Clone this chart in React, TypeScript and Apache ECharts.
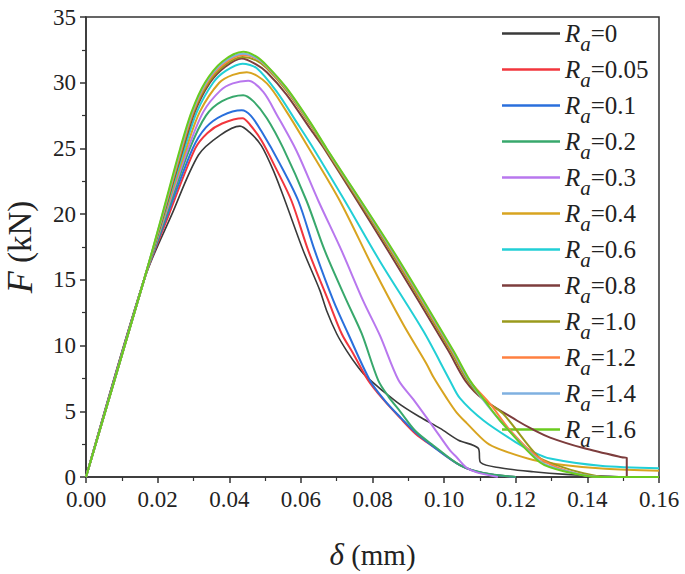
import React, { useEffect, useRef } from "react";
import * as echarts from "echarts";

// Legend values of R_a
const raValues = ["0", "0.05", "0.1", "0.2", "0.3", "0.4", "0.6", "0.8", "1.0", "1.2", "1.4", "1.6"];
const raColors = ["#3a3a3a", "#f2363d", "#2a6fdc", "#38a86c", "#b877ee", "#d8a420", "#22cfd6", "#7d3d3d", "#9a9a1c", "#ff8040", "#7fb0e0", "#6acb1e"];

// [delta (mm), F (kN)]
const curveRa0 = [[0,0],[0.0162,15],[0.024,20],[0.0314,24.5],[0.0374,26.0],[0.043,26.7],[0.0458,26.2],[0.049,25.2],[0.0525,23.2],[0.0556,21.0],[0.0607,17.2],[0.0653,14.2],[0.0672,12.65],[0.07,10.9],[0.0728,9.6],[0.076,8.35],[0.0784,7.6],[0.0868,5.7],[0.093,4.6],[0.0989,3.7],[0.104,2.8],[0.1095,2.2],[0.1102,1.1],[0.1156,0.7],[0.1249,0.4],[0.134,0.2],[0.1436,0.08],[0.15,0]];
const curveRa005 = [[0,0],[0.0162,15],[0.0232,20],[0.0305,25],[0.034,26.2],[0.038,26.9],[0.0437,27.3],[0.0458,26.8],[0.049,25.6],[0.053,23.5],[0.0574,21.0],[0.0621,17.2],[0.0677,13.4],[0.0714,10.9],[0.0746,9.4],[0.0788,7.35],[0.083,5.9],[0.0877,4.5],[0.092,3.3],[0.097,2.3],[0.1044,0.9],[0.111,0.28],[0.12,0]];
const curveRa01 = [[0,0],[0.0162,15],[0.0228,20],[0.0298,25],[0.0335,26.6],[0.038,27.5],[0.0435,27.9],[0.046,27.5],[0.049,26.3],[0.054,23.9],[0.0593,21.0],[0.0639,17.2],[0.0691,13.4],[0.0732,10.9],[0.0793,7.35],[0.0835,5.8],[0.0877,4.57],[0.092,3.4],[0.097,2.3],[0.1044,0.9],[0.111,0.28],[0.12,0]];
const curveRa02 = [[0,0],[0.0162,15],[0.0225,20],[0.029,25],[0.0335,27.5],[0.038,28.6],[0.0439,29.05],[0.0467,28.6],[0.0505,27.3],[0.0551,25.0],[0.0616,21.0],[0.0667,17.2],[0.0728,13.4],[0.077,10.9],[0.0816,7.35],[0.0845,6.1],[0.0877,5.0],[0.092,3.5],[0.097,2.4],[0.1044,0.9],[0.111,0.3],[0.12,0]];
const curveRa03 = [[0,0],[0.0162,15],[0.0222,20],[0.0285,25],[0.0328,27.8],[0.0375,29.4],[0.041,29.95],[0.0453,30.15],[0.0495,29.3],[0.0533,27.55],[0.0588,24.8],[0.0649,21.0],[0.0714,17.2],[0.0774,13.4],[0.0821,10.75],[0.0872,7.4],[0.0914,5.9],[0.097,3.8],[0.1017,2.0],[0.1035,1.5],[0.1063,0.7],[0.1091,0.35],[0.115,0]];
const curveRa04 = [[0,0],[0.0162,15],[0.022,20],[0.028,25],[0.0318,27.8],[0.0372,30.0],[0.041,30.6],[0.0449,30.8],[0.0505,29.95],[0.056,27.8],[0.0616,25.3],[0.0709,21.0],[0.0802,15.9],[0.0886,11.6],[0.0951,8.6],[0.097,7.6],[0.1007,6.0],[0.1035,4.9],[0.1063,4.1],[0.1119,2.6],[0.1156,2.1],[0.1249,1.3],[0.134,0.9],[0.145,0.62],[0.16,0.48]];
const curveRa06 = [[0,0],[0.0162,15],[0.0218,20],[0.0275,25],[0.031,27.8],[0.0355,30.0],[0.039,30.9],[0.0437,31.45],[0.0477,31.1],[0.0533,29.3],[0.0588,27.0],[0.0635,25.0],[0.0723,21.0],[0.0821,16.4],[0.0942,11.1],[0.1016,7.35],[0.1044,6.0],[0.111,4.3],[0.1203,2.6],[0.1249,1.9],[0.1296,1.4],[0.1436,0.85],[0.16,0.66]];
const curveRa08 = [[0,0],[0.0162,15],[0.0217,20],[0.0271,25],[0.0304,27.8],[0.0346,30.0],[0.0388,31.2],[0.0435,31.85],[0.0475,31.4],[0.0505,30.8],[0.056,29.1],[0.0626,26.5],[0.0665,25.0],[0.0844,17.2],[0.1012,9.6],[0.106,7.3],[0.111,5.9],[0.1203,4.3],[0.1249,3.6],[0.1296,3.0],[0.1389,2.2],[0.1496,1.5],[0.151,1.45],[0.151,0],[0.16,0]];
const curveRa10 = [[0,0],[0.0162,15],[0.0216,20],[0.0269,25],[0.0301,27.8],[0.0342,30.0],[0.0386,31.3],[0.0437,31.95],[0.0475,31.7],[0.0505,31.1],[0.056,29.4],[0.0626,26.8],[0.0668,25.0],[0.085,17.2],[0.1018,9.6],[0.1065,7.35],[0.111,5.9],[0.1165,4.8],[0.1263,1.54],[0.1314,0.9],[0.1389,0.28],[0.145,0],[0.16,0]];
const curveRa12 = [[0,0],[0.0162,15],[0.0215,20],[0.0267,25],[0.0299,27.8],[0.0338,30.0],[0.0384,31.4],[0.0438,32.1],[0.0475,31.85],[0.0505,31.2],[0.056,29.5],[0.0626,26.9],[0.067,25.0],[0.0854,17.2],[0.1022,9.6],[0.107,7.35],[0.1128,5.58],[0.1184,3.56],[0.126,1.54],[0.134,0.5],[0.1436,0],[0.16,0]];
const curveRa14 = [[0,0],[0.0162,15],[0.0214,20],[0.0265,25],[0.0297,27.8],[0.0335,30.0],[0.0382,31.5],[0.0439,32.2],[0.0475,31.9],[0.0505,31.25],[0.056,29.55],[0.0626,26.95],[0.0671,25.0],[0.0856,17.2],[0.1024,9.6],[0.107,7.35],[0.1156,4.3],[0.1268,1.2],[0.134,0.45],[0.1436,0],[0.16,0]];
const curveRa16 = [[0,0],[0.0162,15],[0.0213,20],[0.0263,25],[0.0295,27.8],[0.0332,30.0],[0.038,31.6],[0.0439,32.35],[0.0475,32.0],[0.0505,31.3],[0.056,29.6],[0.0626,27.0],[0.0672,25.0],[0.0858,17.2],[0.1026,9.6],[0.1072,7.35],[0.1119,5.6],[0.1156,4.3],[0.1268,1.1],[0.134,0.4],[0.1436,0],[0.16,0]];

const curves = [curveRa0, curveRa005, curveRa01, curveRa02, curveRa03, curveRa04, curveRa06, curveRa08, curveRa10, curveRa12, curveRa14, curveRa16];

const SERIF = "'Liberation Serif', 'Times New Roman', serif";

export default function App() {
  const ref = useRef<HTMLDivElement>(null);
  useEffect(() => {
    const chart = echarts.init(ref.current!, null, { renderer: "svg" });
    chart.setOption({
      animation: false,
      backgroundColor: "#ffffff",
      grid: {
        left: 86,
        right: 26,
        top: 17,
        bottom: 97,
        outerBoundsMode: "none",
        containLabel: false,
        show: true,
        borderColor: "#333",
        borderWidth: 1.5,
        backgroundColor: "transparent",
      },
      xAxis: {
        type: "value",
        min: 0,
        max: 0.16,
        interval: 0.02,
        name: "{i|δ} (mm)",
        nameLocation: "middle",
        nameGap: 62,
        nameTextStyle: {
          fontFamily: SERIF,
          fontSize: 29,
          color: "#222",
          rich: { i: { fontFamily: SERIF, fontStyle: "italic", fontSize: 31, color: "#222" } },
        },
        axisLine: { show: true, lineStyle: { color: "#333", width: 1.5 } },
        axisTick: { show: true, inside: false, length: 6, lineStyle: { color: "#333", width: 1.5 } },
        minorTick: { show: true, splitNumber: 2, length: 4, lineStyle: { color: "#333", width: 1.2 } },
        axisLabel: {
          fontFamily: SERIF,
          fontSize: 23,
          color: "#222",
          margin: 11,
          formatter: (v: number) => v.toFixed(2),
        },
        splitLine: { show: false },
      },
      yAxis: {
        type: "value",
        min: 0,
        max: 35,
        interval: 5,
        name: "{i|F} (kN)",
        nameLocation: "middle",
        nameGap: 48,
        nameRotate: 90,
        nameTextStyle: {
          fontFamily: SERIF,
          fontSize: 33,
          color: "#222",
          rich: { i: { fontFamily: SERIF, fontStyle: "italic", fontSize: 36, color: "#222" } },
        },
        axisLine: { show: true, lineStyle: { color: "#333", width: 1.5 } },
        axisTick: { show: true, inside: false, length: 6, lineStyle: { color: "#333", width: 1.5 } },
        minorTick: { show: true, splitNumber: 2, length: 4, lineStyle: { color: "#333", width: 1.2 } },
        axisLabel: { fontFamily: SERIF, fontSize: 23, color: "#222", margin: 10 },
        splitLine: { show: false },
      },
      legend: {
        orient: "vertical",
        left: 502,
        top: 21,
        icon: "rect",
        itemWidth: 58,
        itemHeight: 2.5,
        itemGap: 2.5,
        padding: 0,
        data: raValues,
        formatter: (name: string) => `{r|R}{s|a}{t|=${name}}`,
        textStyle: {
          fontFamily: SERIF,
          color: "#222",
          rich: {
            r: { fontFamily: SERIF, fontStyle: "italic", fontSize: 25, lineHeight: 42, verticalAlign: "middle", color: "#222" },
            s: { fontFamily: SERIF, fontStyle: "italic", fontSize: 21, verticalAlign: "bottom", color: "#222" },
            t: { fontFamily: SERIF, fontSize: 25, lineHeight: 42, verticalAlign: "middle", color: "#222" },
          },
        },
      },
      series: curves.map((data, i) => ({
        name: raValues[i],
        type: "line",
        data,
        symbol: "none",
        smooth: 0.3,
        color: raColors[i],
        lineStyle: { color: raColors[i], width: i === 0 ? 1.6 : 2 },
        z: 2 + i,
      })),
    });
    return () => chart.dispose();
  }, []);
  return <div ref={ref} style={{ position: "absolute", left: 0, top: 0, width: 685, height: 574 }} />;
}
